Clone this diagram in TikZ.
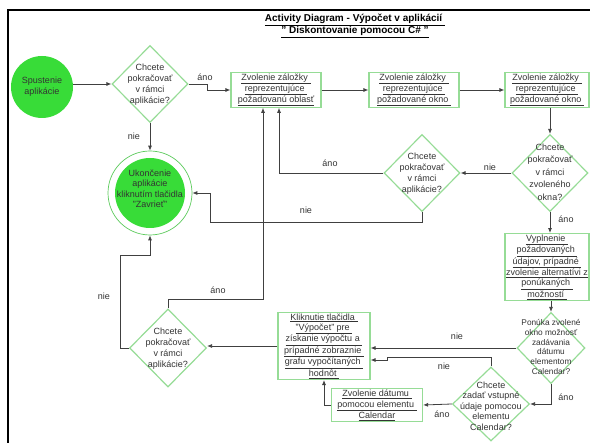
\documentclass[tikz,border=0pt]{standalone}
\usepackage{fontspec}
\setmainfont{Liberation Sans}
\usetikzlibrary{shapes.geometric,arrows.meta,calc}
\definecolor{boxline}{HTML}{96DC96}
\definecolor{gfill}{HTML}{38DC38}
\definecolor{ringc}{HTML}{5CCB5C}
\definecolor{txtc}{HTML}{333333}
\definecolor{linec}{HTML}{404040}
\newcommand\uln[1]{\underline{#1}}
\tikzset{
  every node/.style={text=txtc, font=\fontsize{9}{11}\selectfont},
  actbox/.style={draw=boxline, line width=1.2pt, fill=white, align=center, inner sep=1pt},
  dia/.style={diamond, draw=boxline, line width=1.2pt, inner sep=0pt},
  dtxt/.style={align=center, inner sep=0pt},
  conn/.style={draw=linec, line width=0.8pt, -{Latex[length=5pt,width=4pt]}},
  lbl/.style={inner sep=1pt},
}
\begin{document}
\begin{tikzpicture}[x=1pt,y=-1pt]
\useasboundingbox (0,0) rectangle (590,443);
\fill[white] (0,0) rectangle (590,443);
% frame
\draw[line width=2pt, black] (8,443) -- (8,10) -- (590,10);
% title
\node[font=\bfseries\fontsize{10}{12}\selectfont, align=center, text=black] (title) at (355,26)
  {\uln{Activity Diagram - Výpočet v aplikácií }\\\uln{" Diskontovanie pomocou C\# "}};
% start
\node[circle, fill=gfill, minimum size=62pt, inner sep=0pt, align=center] (start) at (42,87) {Spustenie\\aplikácie};
% decision 1
\node[dia, minimum width=76pt, minimum height=77pt] (d1) at (150,84) {};
\node[dtxt] (d1t) at (150,85) {Chcete\\pokračovať\\v rámci\\aplikácie?};
% end
\node[circle, draw=ringc, line width=0.7pt, minimum size=84pt, inner sep=0pt] (end) at (150,193) {};
\fill[gfill] (end.center) circle (35pt);
\node[dtxt, font=\fontsize{9}{10.5}\selectfont] (endt) at (150,189) {Ukončenie\\aplikácie\\kliknutím tlačidla\\"Zavrieť"};
% boxes top row
\node[actbox, minimum width=90pt, minimum height=34pt] (a) at (276,90)
  {\uln{Zvolenie záložky }\\\uln{reprezentujúce }\\\uln{požadovanú oblasť}};
\node[actbox, minimum width=90pt, minimum height=34pt] (b) at (414,90)
  {\uln{Zvolenie záložky }\\\uln{reprezentujúce }\\\uln{požadované okno }};
\node[actbox, minimum width=84pt, minimum height=34pt] (c) at (547,90)
  {\uln{Zvolenie záložky }\\\uln{reprezentujúce }\\\uln{požadované okno }};
% decisions row 2
\node[dia, minimum width=76pt, minimum height=77pt] (d2) at (550,173) {};
\node[dtxt, font=\fontsize{9}{12.5}\selectfont] (d2t) at (550,172) {Chcete\\pokračovať\\v rámci\\zvoleného\\okna?};
\node[dia, minimum width=76pt, minimum height=77pt] (d3) at (422,173) {};
\node[dtxt] (d3t) at (422,174) {Chcete\\pokračovať\\v rámci\\aplikácie?};
% box E
\node[actbox, minimum width=84pt, minimum height=64pt, font=\fontsize{9}{10.2}\selectfont] (e) at (547,267)
  {\uln{Vyplnenie }\\\uln{požadovaných }\\\uln{údajov, prípadné }\\\uln{zvolenie alternatívi z}\\\uln{ponúkaných }\\\uln{možností }};
% decision 4
\node[dia, minimum width=68pt, minimum height=71pt] (d4) at (551,348) {};
\node[dtxt, font=\fontsize{8.3}{9.7}\selectfont] (d4t) at (551,347) {Ponúka zvolené\\okno možnosť\\zadávania\\dátumu\\elementom\\Calendar?};
% decision 5
\node[dia, minimum width=77pt, minimum height=74pt] (d5) at (491,404) {};
\node[dtxt, font=\fontsize{9}{10.4}\selectfont] (d5t) at (491,406) {Chcete\\zadať vstupné\\údaje pomocou\\elementu\\Calendar?};
% box G
\node[actbox, minimum width=91pt, minimum height=33pt] (g) at (377,405)
  {\uln{Zvolenie dátumu }\\\uln{pomocou elementu }\\\uln{Calendar}};
% box F
\node[actbox, minimum width=92pt, minimum height=63pt, font=\fontsize{9}{10.3}\selectfont] (f) at (324,346)
  {\uln{Kliknutie tlačidla }\\\uln{"Výpočet" pre }\\\uln{získanie výpočtu a }\\\uln{prípadné zobraznie }\\\uln{grafu vypočítaných }\\\uln{hodnôt }};
% decision 6
\node[dia, minimum width=77pt, minimum height=78pt] (d6) at (168,348) {};
\node[dtxt] (d6t) at (168,349) {Chcete\\pokračovať\\v rámci\\aplikácie?};
% helper coordinates
\coordinate (n1) at (210,222);
\coordinate (n2) at (387,357);
\coordinate (n3) at (263,299);
\coordinate (n4) at (120,255);
% connectors
\draw[conn] (start.east |- d1.west) -- (d1.west);
\draw[conn] (d1.east) -- ++(19,0) |- (a.west);
\node[lbl] (l1) at (205,77) {áno};
\draw[conn] (d1.south) -- (end.north);
\node[lbl] (l2) at (134,136) {nie};
\draw[conn] (a) -- (b);
\draw[conn] (b) -- (c);
\draw[conn] (d2.north |- c.south) -- (d2.north);
\draw[conn] (d2.west) -- (d3.east);
\node[lbl] (l3) at (490,167) {nie};
\draw[conn] (d3.west) -| ([xshift=3pt]a.south);
\node[lbl] (l4) at (330,163) {áno};
\draw[conn] (d3.south) |- (n1) |- (end.east);
\node[lbl] (l5) at (306,210) {nie};
\draw[conn] (d2.south) -- (d2.south |- e.north);
\node[lbl] (l6) at (566,219) {áno};
\draw[conn] (d4.north |- e.south) -- (d4.north);
\draw[conn] (d4.west) -- (d4.west -| f.east);
\node[lbl] (l7) at (457,336) {nie};
\draw[conn] (d4.south) |- (d5.east);
\node[lbl] (l8) at (566,397) {áno};
\draw[conn] (d5.north) |- (n2) |- ($(f.east)+(0,14)$);
\node[lbl] (l9) at (444,366) {nie};
\draw[conn] (d5.west) -- (g.east);
\node[lbl] (l10) at (442,414) {áno};
\draw[conn] (g.west) -| (f.south);
\draw[conn] (f.west) -- (d6.east |- f.west);
\draw[conn] (d6.north) |- (n3) -- (n3 |- a.south);
\node[lbl] (l11) at (218,290) {áno};
\draw[conn] (d6.west) -| (n4) -| (end.south);
\node[lbl] (l12) at (104,296) {nie};
\end{tikzpicture}
\end{document}
